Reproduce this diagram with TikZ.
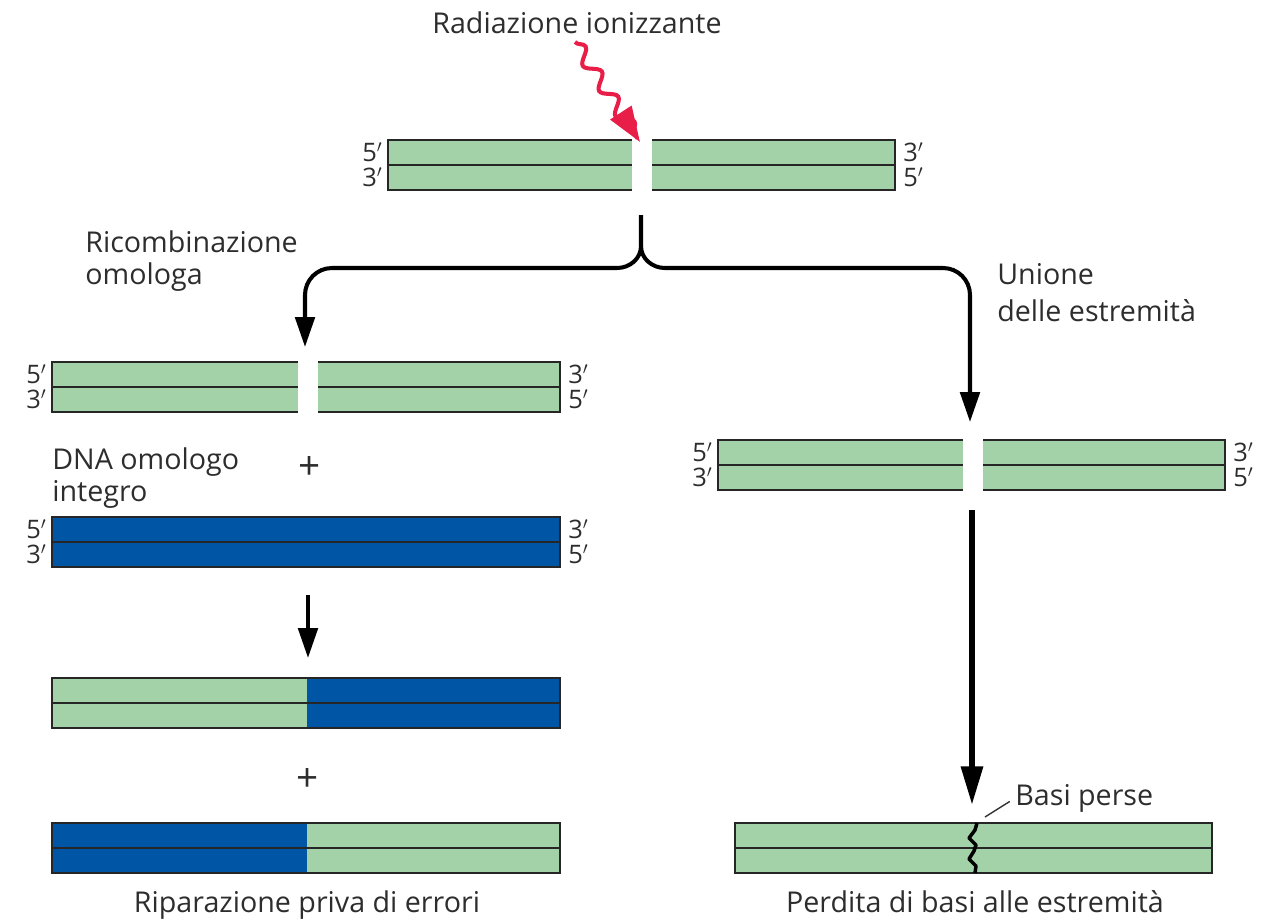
\documentclass[tikz,border=0pt]{standalone}
\usepackage{fontspec}
\setmainfont{Open Sans}
\usetikzlibrary{arrows.meta,decorations.pathmorphing}
\definecolor{dnagreen}{RGB}{164,210,168}
\definecolor{dnablue}{RGB}{0,85,165}
\definecolor{rayred}{RGB}{232,30,72}
\definecolor{txt}{RGB}{45,45,45}
\begin{document}
\begin{tikzpicture}[x=0.2mm, y=-0.2mm,
  every node/.style={font=\fontsize{16.3}{18}\selectfont, text=txt, inner sep=0pt},
  endlabel/.style={font=\fontsize{14.5}{14.5}\selectfont},
  edge/.style={draw=black!85, line width=1.1pt},
  flow/.style={line width=2.3pt, -{Triangle[length=17pt,width=11pt]}},
  bigflow/.style={line width=3.4pt, -{Triangle[length=22pt,width=12pt]}},
  ray/.style={rayred, line width=2.3pt, decorate,
    decoration={snake, amplitude=1.3mm, segment length=6mm, post length=2mm},
    -{Triangle[length=20pt,width=14pt]}}]
  \useasboundingbox (0,0) rectangle (1264,920);

  % strands broken by the radiation
  \foreach \xl/\xa/\xb/\xr/\yt/\nm in {388/632/652/895/140/top, 52/298/318/560/362/hr, 718/963/983/1225/440/nhej}{
    \fill[dnagreen] (\xl,\yt) rectangle (\xa,\yt+50);
    \fill[dnagreen] (\xb,\yt) rectangle (\xr,\yt+50);
    \draw[edge] (\xa,\yt) -- (\xl,\yt) -- (\xl,\yt+50) -- (\xa,\yt+50) (\xl,\yt+25) -- (\xa,\yt+25);
    \draw[edge] (\xb,\yt) -- (\xr,\yt) -- (\xr,\yt+50) -- (\xb,\yt+50) (\xb,\yt+25) -- (\xr,\yt+25);
    \node[endlabel, anchor=east] (\nm-l5) at (\xl-5,\yt+12.5) {5$'$};
    \node[endlabel, anchor=east] (\nm-l3) at (\xl-5,\yt+37.5) {3$'$};
    \node[endlabel, anchor=west] (\nm-r3) at (\xr+8,\yt+12.5) {3$'$};
    \node[endlabel, anchor=west] (\nm-r5) at (\xr+8,\yt+37.5) {5$'$};
  }

  % intact homologous DNA
  \draw[edge, fill=dnablue] (52,517) rectangle (560,567);
  \draw[edge] (52,542) -- (560,542);
  \node[endlabel, anchor=east] (om-l5) at (47,529.5) {5$'$};
  \node[endlabel, anchor=east] (om-l3) at (47,554.5) {3$'$};
  \node[endlabel, anchor=west] (om-r3) at (568,529.5) {3$'$};
  \node[endlabel, anchor=west] (om-r5) at (568,554.5) {5$'$};

  % repaired products
  \fill[dnagreen] (52,678) rectangle (307,728);
  \fill[dnablue] (307,678) rectangle (560,728);
  \draw[edge] (52,678) rectangle (560,728) (52,703) -- (560,703);
  \fill[dnablue] (52,823) rectangle (307,873);
  \fill[dnagreen] (307,823) rectangle (560,873);
  \draw[edge] (52,823) rectangle (560,873) (52,848) -- (560,848);

  \fill[dnagreen] (735,823) rectangle (1212,873);
  \draw[edge] (735,823) rectangle (1212,873) (735,848) -- (1212,848);
  \draw[line width=2pt, line join=round] (977,823) -- (975,830) -- (969,838) -- (976,845) -- (974,851) -- (969,859) -- (976,866) -- (975,873);

  % labels
  \node[anchor=base] (rad) at (577,33) {Radiazione ionizzante};
  \node[anchor=base west, align=left] (ricomb) at (85,284) {Ricombinazione\\omologa};
  \node[anchor=base west, align=left, font=\fontsize{16.3}{20.5}\selectfont] (unione) at (997,321) {Unione\\delle estremità};
  \node[anchor=base west, align=left] (dnaom) at (52,501) {DNA omologo\\integro};
  \node[font=\fontsize{22}{22}\selectfont] (plusA) at (310,468) {+};
  \node[font=\fontsize{22}{22}\selectfont] (plusB) at (308,780) {+};
  \node[anchor=base] (ripar) at (307,912) {Riparazione priva di errori};
  \node[anchor=base] (perdita) at (975,912) {Perdita di basi alle estremità};
  \node[anchor=base west] (basi) at (1015,805) {Basi perse};

  % connectors
  \coordinate (raystart) at (575,42);
  \coordinate (raytip) at (640,142);
  \coordinate (split) at (641,215);
  \coordinate (fork) at (641,246);
  \coordinate (hrtop) at (305,347);
  \coordinate (nhejtop) at (970,422);
  \coordinate (jag) at (985,817);
  \draw[ray] (raystart) -- (raytip);
  \draw[flow] (split) -- (fork) to[out=-90, in=0] (617,268) -- (332,268) to[out=180, in=90] (305,295) -- (hrtop);
  \draw[flow] (fork) to[out=-90, in=180] (665,268) -- (943,268) to[out=0, in=90] (970,295) -- (nhejtop);
  \draw[flow] (308,595) -- (308,658);
  \draw[bigflow] (972,510) -- (972,805);
  \draw[black!80, line width=0.8pt] (jag) -- ([xshift=-3pt,yshift=-2pt]basi.west);
\end{tikzpicture}
\end{document}
